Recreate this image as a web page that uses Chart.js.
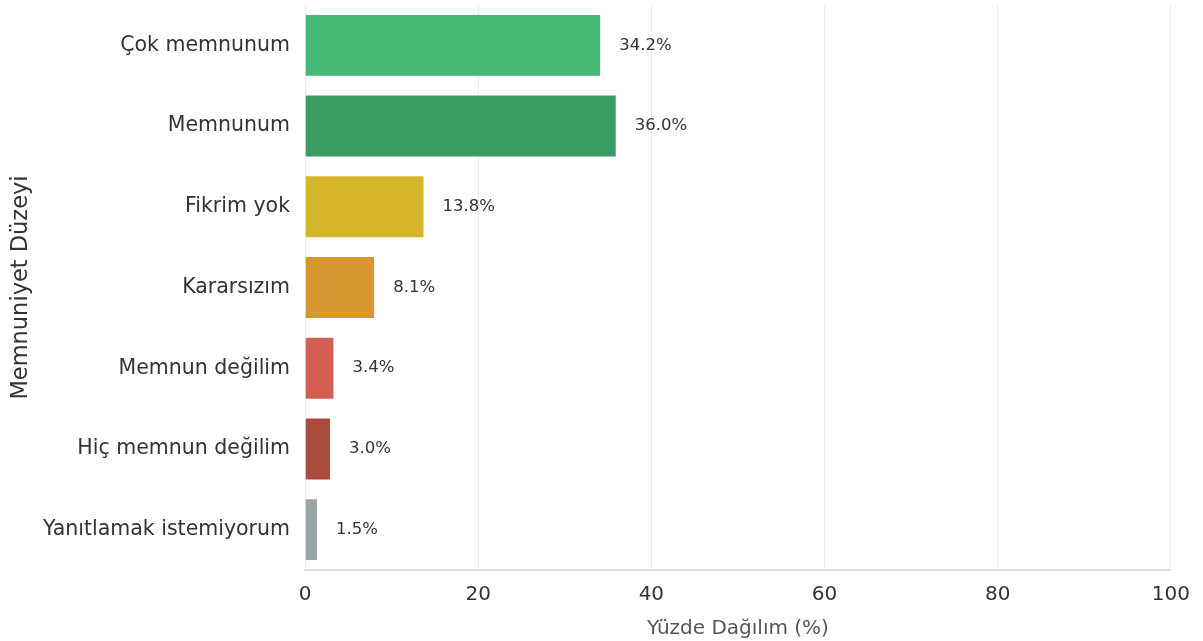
<!DOCTYPE html>
<html lang="tr">
<head>
<meta charset="utf-8">
<title>Memnuniyet Düzeyi</title>
<script src="https://cdn.jsdelivr.net/npm/chart.js@4"></script>
<style>
  html, body { margin: 0; padding: 0; background: #fff; }
  #wrap { width: 1203px; height: 641px; }
</style>
</head>
<body>
<div id="wrap"><canvas id="chart" width="1203" height="641"></canvas></div>
<script>
// Memnuniyet dağılımı (yüzde)
const categories = [
  'Çok memnunum',
  'Memnunum',
  'Fikrim yok',
  'Kararsızım',
  'Memnun değilim',
  'Hiç memnun değilim',
  'Yanıtlamak istemiyorum'
];
const percentages = [34.2, 36.0, 13.8, 8.1, 3.4, 3.0, 1.5];
const barColors = ['#45b975', '#399c62', '#d5b52b', '#d6972f', '#d45f51', '#ad4a3f', '#97a5a6'];
const xTicks = [0, 20, 40, 60, 80, 100];

const FONT = "'DejaVu Sans', sans-serif";

// yüzde etiketlerini çubukların sağına yaz
const valueLabels = {
  id: 'valueLabels',
  afterDatasetsDraw(chart) {
    const ctx = chart.ctx;
    const meta = chart.getDatasetMeta(0);
    ctx.save();
    ctx.font = '16.5px ' + FONT;
    ctx.fillStyle = '#333';
    ctx.textAlign = 'left';
    ctx.textBaseline = 'middle';
    meta.data.forEach((bar, i) => {
      const v = chart.data.datasets[0].data[i];
      ctx.fillText(v.toFixed(1) + '%', bar.x + 18, bar.y);
    });
    ctx.restore();
  }
};

new Chart(document.getElementById('chart'), {
  type: 'bar',
  data: {
    labels: categories,
    datasets: [{
      data: percentages,
      backgroundColor: barColors,
      borderColor: 'rgba(255,255,255,0.5)',
      borderWidth: 1,
      barPercentage: 0.78,
      categoryPercentage: 1
    }]
  },
  options: {
    indexAxis: 'y',
    responsive: false,
    animation: false,
    layout: { padding: { top: 5, right: 29, bottom: 0, left: 0 } },
    plugins: {
      legend: { display: false },
      tooltip: { enabled: false }
    },
    scales: {
      x: {
        min: 0,
        max: 100,
        afterBuildTicks(scale) {
          scale.ticks = xTicks.map(v => ({ value: v }));
        },
        afterFit(scale) { scale.height = 71; },
        grid: {
          color: '#ececec',
          lineWidth: 1,
          drawTicks: false
        },
        border: { color: '#dcdcdc', width: 2 },
        ticks: {
          padding: 13,
          color: '#333',
          font: { family: FONT, size: 20 }
        },
        title: {
          display: true,
          text: 'Yüzde Dağılım (%)',
          color: '#555',
          font: { family: FONT, size: 20 },
          padding: { top: 1, bottom: 0 }
        }
      },
      y: {
        afterFit(scale) {
          scale.width = 305;
          scale.paddingTop = 0;
          scale.paddingBottom = 0;
        },
        grid: { display: false, drawTicks: false },
        border: { display: false },
        ticks: {
          padding: 15,
          color: '#333',
          font: { family: FONT, size: 20.5 }
        },
        title: {
          display: true,
          text: 'Memnuniyet Düzeyi',
          color: '#333',
          font: { family: FONT, size: 22.5 },
          padding: { top: 8, bottom: 0 }
        }
      }
    }
  },
  plugins: [valueLabels]
});
</script>
</body>
</html>
